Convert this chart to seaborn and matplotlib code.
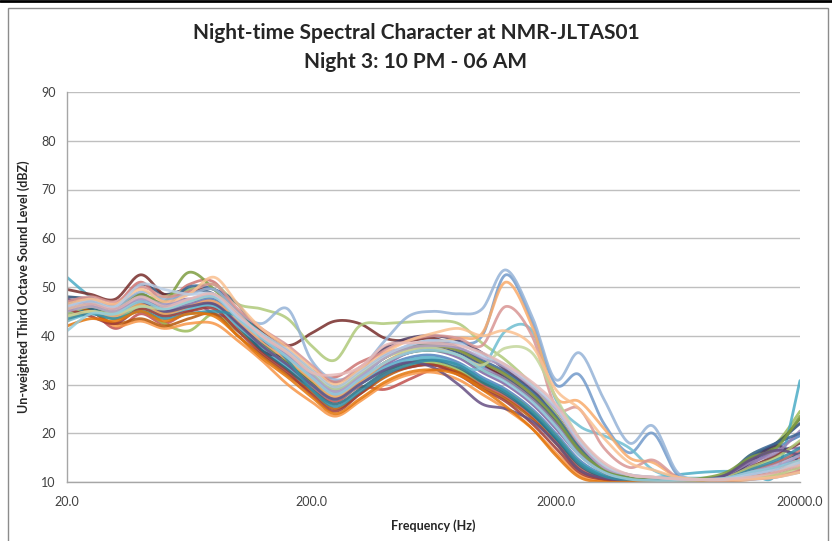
import numpy as np
import pandas as pd
import matplotlib
matplotlib.use("Agg")
import matplotlib.pyplot as plt
import seaborn as sns
from matplotlib.patches import Rectangle
from matplotlib.lines import Line2D

# One-third octave band centre frequencies (Hz)
bands = [20, 25, 31.5, 40, 50, 63, 80, 100, 125, 160, 200, 250, 315, 400, 500,
         630, 800, 1000, 1250, 1600, 2000, 2500, 3150, 4000, 5000, 6300, 8000,
         10000, 12500, 16000, 20000]

# 15-minute intervals, 22:00 to 06:00
intervals = ["22:00", "22:15", "22:30", "22:45", "23:00", "23:15", "23:30", "23:45",
             "00:00", "00:15", "00:30", "00:45", "01:00", "01:15", "01:30", "01:45",
             "02:00", "02:15", "02:30", "02:45", "03:00", "03:15", "03:30", "03:45",
             "04:00", "04:15", "04:30", "04:45", "05:00", "05:15", "05:30", "05:45"]

# Un-weighted third octave levels (dBZ), one list per interval
lv_2200 = [45.5, 46.5, 44.5, 47.0, 45.0, 46.5, 47.5, 42.5, 38.0, 34.0, 30.5, 27.0, 30.0, 33.5, 35.5, 36.0, 34.5, 31.5, 29.0, 25.0, 20.0, 14.5, 11.5, 10.5, 10.2, 10.2, 10.3, 10.8, 14.0, 17.0, 19.5]
lv_2215 = [47.5, 45.5, 41.5, 44.5, 42.5, 45.0, 46.0, 41.5, 37.0, 33.0, 29.5, 26.5, 29.5, 29.0, 31.0, 33.0, 32.5, 30.0, 27.5, 23.5, 18.5, 13.0, 10.8, 10.2, 10.1, 10.1, 10.1, 10.3, 11.0, 12.5, 15.0]
lv_2230 = [44.0, 45.0, 43.5, 45.5, 42.5, 41.0, 44.5, 41.0, 37.5, 34.5, 31.0, 27.5, 30.5, 33.0, 34.0, 34.5, 33.0, 30.5, 28.5, 24.5, 19.5, 14.0, 11.2, 10.4, 10.2, 10.2, 10.4, 11.0, 15.5, 18.0, 24.5]
lv_2245 = [46.0, 47.0, 45.0, 48.0, 46.0, 47.5, 44.5, 43.5, 40.5, 36.0, 31.5, 28.0, 31.0, 34.0, 36.5, 37.0, 35.5, 32.5, 30.0, 26.0, 21.0, 15.5, 12.0, 10.6, 10.3, 10.2, 10.3, 10.8, 13.5, 16.5, 17.0]
lv_2300 = [52.0, 48.0, 45.5, 46.5, 44.5, 45.5, 46.0, 42.0, 37.5, 33.5, 30.0, 27.0, 30.0, 33.0, 35.0, 35.5, 34.0, 31.0, 28.5, 24.0, 19.0, 14.0, 11.5, 10.8, 10.9, 11.5, 12.0, 12.2, 12.0, 11.8, 30.8]
lv_2315 = [43.0, 45.0, 42.0, 43.0, 41.5, 42.5, 42.5, 39.0, 35.0, 30.0, 26.5, 23.5, 26.5, 30.0, 32.0, 32.5, 31.0, 28.0, 25.0, 21.0, 16.0, 11.5, 10.2, 10.0, 10.0, 10.0, 10.0, 10.1, 10.5, 11.5, 13.5]
lv_2330 = [48.0, 47.5, 46.0, 50.5, 48.5, 49.5, 48.5, 44.0, 40.5, 37.0, 33.0, 29.5, 32.5, 36.0, 37.5, 37.5, 36.5, 34.0, 31.5, 27.5, 22.5, 16.5, 12.5, 10.8, 10.4, 10.3, 10.5, 11.5, 15.0, 18.0, 22.0]
lv_2345 = [49.5, 48.5, 47.5, 52.5, 48.5, 49.0, 49.5, 45.0, 41.0, 38.0, 40.5, 43.0, 42.5, 39.5, 39.0, 39.5, 37.5, 34.5, 31.0, 27.0, 22.0, 16.0, 12.0, 10.5, 10.2, 10.2, 10.3, 10.8, 13.0, 15.5, 18.0]
lv_0000 = [45.0, 46.0, 44.0, 46.5, 44.5, 46.0, 47.0, 42.5, 38.5, 34.5, 30.5, 27.0, 30.5, 34.5, 36.5, 37.0, 36.0, 33.0, 31.0, 27.0, 22.0, 16.0, 12.0, 10.6, 10.3, 10.3, 10.5, 11.5, 14.5, 17.5, 23.0]
lv_0015 = [47.0, 46.0, 45.5, 48.5, 45.5, 47.0, 48.0, 43.5, 37.0, 35.5, 33.0, 30.5, 33.0, 37.5, 39.5, 40.0, 39.0, 36.5, 33.0, 29.0, 24.0, 17.0, 12.5, 10.8, 10.4, 10.3, 10.5, 11.0, 14.0, 17.5, 14.0]
lv_0030 = [44.5, 45.5, 44.0, 47.0, 45.5, 46.0, 46.5, 42.0, 37.0, 33.0, 29.0, 26.0, 29.0, 32.5, 34.5, 35.0, 33.5, 30.5, 28.0, 24.0, 19.0, 13.5, 11.0, 10.3, 10.2, 10.2, 10.3, 10.6, 12.0, 14.0, 16.0]
lv_0045 = [46.5, 45.0, 42.5, 43.5, 42.0, 43.5, 44.5, 40.0, 36.0, 32.0, 28.5, 25.0, 28.0, 31.5, 33.5, 34.0, 32.5, 29.5, 27.0, 23.0, 18.0, 12.5, 10.6, 10.1, 10.0, 10.0, 10.1, 10.4, 11.5, 13.0, 12.5]
lv_0100 = [45.0, 46.0, 45.0, 48.0, 46.5, 47.0, 48.0, 43.5, 39.0, 35.5, 32.0, 28.5, 31.5, 35.5, 38.0, 39.0, 38.5, 40.0, 52.5, 43.0, 30.0, 32.0, 22.0, 16.0, 20.0, 11.5, 10.5, 10.5, 11.5, 13.0, 15.5]
lv_0115 = [47.0, 47.5, 46.5, 51.0, 47.0, 50.5, 51.0, 44.5, 40.0, 36.5, 32.5, 31.5, 34.5, 36.5, 37.5, 38.0, 37.0, 34.5, 32.0, 28.0, 23.5, 17.5, 13.0, 11.0, 10.5, 10.4, 10.6, 11.0, 12.5, 14.0, 16.5]
lv_0130 = [44.5, 46.0, 45.0, 47.5, 48.0, 49.5, 50.5, 46.5, 45.5, 43.5, 38.0, 35.0, 42.0, 42.5, 42.8, 43.0, 42.5, 38.5, 35.0, 30.0, 24.0, 17.0, 12.5, 11.0, 10.5, 10.4, 10.5, 11.0, 13.0, 15.0, 18.5]
lv_0145 = [46.0, 46.5, 45.5, 47.5, 45.5, 46.5, 47.0, 43.0, 39.0, 35.5, 31.5, 28.0, 31.0, 34.5, 36.5, 37.5, 36.0, 33.5, 31.0, 27.0, 22.0, 16.0, 12.0, 10.6, 10.3, 10.3, 10.6, 11.5, 14.0, 16.0, 20.5]
lv_0200 = [43.0, 44.5, 44.0, 46.0, 44.0, 45.5, 46.0, 42.0, 38.0, 34.0, 30.0, 27.0, 30.0, 33.5, 35.0, 35.5, 34.0, 33.5, 41.0, 41.0, 27.0, 21.5, 19.5, 17.0, 12.5, 11.0, 10.8, 10.8, 11.0, 11.5, 14.0]
lv_0215 = [44.0, 45.0, 44.0, 46.5, 44.5, 46.0, 47.0, 43.0, 39.0, 35.0, 31.0, 27.5, 30.5, 34.5, 37.0, 38.5, 39.5, 40.5, 51.0, 42.0, 27.5, 26.5, 21.0, 15.0, 14.0, 11.0, 10.5, 10.4, 10.8, 12.0, 14.5]
lv_0230 = [46.5, 47.0, 45.5, 48.5, 46.0, 50.0, 49.5, 46.5, 39.5, 36.0, 32.5, 29.0, 32.0, 35.5, 37.5, 38.5, 37.5, 35.0, 32.5, 28.5, 23.5, 17.0, 12.5, 10.8, 10.4, 10.3, 10.6, 11.5, 15.5, 18.0, 20.0]
lv_0245 = [45.5, 44.0, 42.5, 45.5, 44.0, 45.0, 45.5, 41.0, 36.5, 32.5, 28.0, 24.5, 28.0, 32.0, 33.5, 34.0, 32.0, 29.0, 26.5, 22.0, 17.0, 12.0, 10.5, 10.0, 10.0, 10.0, 10.1, 10.3, 11.0, 12.0, 13.0]
lv_0300 = [45.5, 46.5, 46.0, 48.5, 47.0, 53.0, 49.5, 44.5, 40.5, 36.5, 33.0, 29.5, 32.5, 35.5, 37.5, 38.0, 37.0, 34.5, 32.0, 28.0, 23.0, 16.5, 12.5, 10.8, 10.4, 10.4, 10.8, 12.0, 15.0, 17.0, 23.5]
lv_0315 = [47.5, 46.5, 45.5, 47.0, 45.0, 46.0, 46.5, 42.5, 38.0, 34.0, 30.0, 27.0, 30.0, 33.0, 34.5, 33.5, 30.0, 26.0, 25.0, 22.5, 18.0, 12.5, 10.8, 10.3, 10.2, 10.2, 10.4, 11.5, 14.5, 16.5, 15.5]
lv_0330 = [43.5, 44.5, 43.5, 45.0, 43.5, 44.5, 45.0, 44.0, 40.5, 35.0, 29.0, 25.5, 28.5, 32.0, 34.0, 35.0, 34.0, 31.0, 28.5, 24.5, 19.5, 14.0, 11.2, 10.4, 10.2, 10.2, 10.3, 10.7, 12.5, 14.5, 17.0]
lv_0345 = [42.0, 43.5, 43.0, 45.0, 43.0, 44.5, 44.0, 40.0, 35.5, 31.5, 27.5, 24.0, 27.0, 30.5, 32.5, 33.0, 32.0, 29.0, 25.5, 21.0, 15.5, 11.0, 10.0, 10.0, 10.0, 10.0, 10.0, 10.2, 10.8, 11.5, 12.0]
lv_0400 = [46.0, 47.5, 46.0, 49.0, 47.5, 48.5, 49.5, 45.0, 42.5, 45.5, 35.0, 31.0, 33.0, 39.0, 44.0, 45.0, 44.5, 45.5, 53.5, 44.0, 31.0, 36.5, 27.0, 18.0, 21.5, 12.0, 10.5, 10.4, 10.5, 11.0, 12.0]
lv_0415 = [47.0, 48.0, 47.0, 50.0, 48.0, 49.0, 50.5, 45.5, 41.5, 38.0, 34.0, 30.5, 33.5, 37.0, 39.0, 40.0, 39.5, 38.0, 46.0, 40.0, 25.5, 25.0, 17.0, 13.0, 14.5, 11.0, 10.4, 10.4, 10.6, 11.0, 12.5]
lv_0430 = [44.0, 45.0, 44.5, 46.0, 45.5, 47.0, 48.0, 44.0, 40.0, 36.5, 32.5, 29.0, 32.0, 35.5, 37.0, 37.5, 36.0, 34.0, 37.5, 36.5, 27.5, 19.0, 13.5, 11.5, 11.0, 10.5, 10.4, 10.6, 11.0, 11.5, 13.0]
lv_0445 = [45.0, 46.0, 45.0, 47.5, 46.5, 47.5, 48.0, 44.0, 40.0, 36.0, 32.0, 28.5, 31.5, 35.5, 37.5, 38.0, 37.5, 35.5, 33.5, 29.5, 25.0, 18.0, 13.0, 11.5, 11.0, 10.6, 10.5, 10.8, 12.0, 13.5, 15.5]
lv_0500 = [41.0, 44.5, 44.5, 47.0, 45.5, 47.0, 48.0, 43.5, 39.5, 35.5, 31.5, 28.0, 31.0, 34.5, 36.5, 37.0, 36.0, 33.0, 30.5, 26.5, 21.5, 15.5, 12.0, 10.6, 10.3, 10.3, 10.5, 10.8, 12.0, 13.0, 14.5]
lv_0515 = [46.5, 47.5, 46.5, 49.5, 47.0, 48.5, 52.0, 46.5, 41.5, 37.5, 33.5, 30.0, 33.0, 36.5, 39.0, 40.5, 41.5, 40.0, 41.0, 38.0, 29.0, 25.0, 19.0, 14.0, 12.5, 11.0, 10.5, 10.4, 10.6, 11.0, 12.0]
lv_0530 = [46.0, 47.0, 46.0, 50.5, 49.5, 48.5, 48.5, 44.0, 40.5, 37.0, 33.0, 29.5, 32.5, 36.0, 38.0, 39.0, 38.5, 36.0, 34.0, 30.0, 25.5, 18.5, 13.5, 11.5, 11.0, 10.6, 10.5, 10.6, 11.5, 12.5, 14.0]
lv_0545 = [45.5, 46.5, 45.5, 48.0, 46.0, 47.5, 48.5, 44.5, 40.0, 36.5, 32.5, 32.0, 33.5, 38.0, 38.5, 38.5, 38.0, 36.5, 34.0, 30.5, 26.0, 19.0, 14.0, 11.5, 11.0, 10.6, 10.5, 10.6, 11.0, 12.0, 13.5]

levels = [lv_2200, lv_2215, lv_2230, lv_2245, lv_2300, lv_2315, lv_2330, lv_2345,
          lv_0000, lv_0015, lv_0030, lv_0045, lv_0100, lv_0115, lv_0130, lv_0145,
          lv_0200, lv_0215, lv_0230, lv_0245, lv_0300, lv_0315, lv_0330, lv_0345,
          lv_0400, lv_0415, lv_0430, lv_0445, lv_0500, lv_0515, lv_0530, lv_0545]

# Office-style series colour cycle
colors = ["#4F81BD", "#C0504D", "#9BBB59", "#8064A2", "#4BACC6", "#F79646",
          "#2C4D75", "#772C2A", "#5F7530", "#4D3B62", "#276A7C", "#B65708",
          "#729ACA", "#CD7371", "#AFC97A", "#9983B5", "#6FBDD1", "#F9AB6B",
          "#3A6595", "#9E3B38", "#7E9D40", "#664F83", "#358EA6", "#E3750A",
          "#95B3D7", "#D99694", "#C3D69B", "#B3A2C7", "#93CDDD", "#FAC090",
          "#B9CDE5", "#E6B9B8"]


def smooth_curve(freqs, vals, steps=20):
    """Bezier smoothing through every band value (Catmull-Rom style), in log-frequency space."""
    lx = np.log10(np.asarray(freqs, dtype=float))
    ly = np.asarray(vals, dtype=float)
    px = np.r_[lx[0], lx, lx[-1]]
    py = np.r_[ly[0], ly, ly[-1]]
    t = np.linspace(0, 1, steps, endpoint=False)
    xs, ys = [], []
    for i in range(len(lx) - 1):
        x0, x1, x2, x3 = px[i:i + 4]
        y0, y1, y2, y3 = py[i:i + 4]
        cx1, cy1 = x1 + (x2 - x0) / 6, y1 + (y2 - y0) / 6
        cx2, cy2 = x2 - (x3 - x1) / 6, y2 - (y3 - y1) / 6
        b0 = (1 - t) ** 3
        b1 = 3 * (1 - t) ** 2 * t
        b2 = 3 * (1 - t) * t ** 2
        b3 = t ** 3
        xs.append(b0 * x1 + b1 * cx1 + b2 * cx2 + b3 * x2)
        ys.append(b0 * y1 + b1 * cy1 + b2 * cy2 + b3 * y2)
    xs.append([lx[-1]])
    ys.append([ly[-1]])
    return 10 ** np.concatenate(xs), np.concatenate(ys)


frames = []
for name, vals in zip(intervals, levels):
    fx, fy = smooth_curve(bands, vals)
    frames.append(pd.DataFrame({"Frequency": fx, "Level": fy, "Interval": name}))
df = pd.concat(frames, ignore_index=True)

sns.set_style("white")
plt.rcParams["font.family"] = ["Lato", "DejaVu Sans"]

fig = plt.figure(figsize=(8.32, 5.41), dpi=100)
ax = fig.add_axes([67 / 832, 1 - 482 / 541, (800 - 67) / 832, (482 - 92) / 541])

sns.lineplot(data=df, x="Frequency", y="Level", hue="Interval", hue_order=intervals,
             palette=colors, sort=False, estimator=None, legend=False,
             linewidth=2.0, alpha=0.85, ax=ax)

ax.set_xscale("log")
ax.set_xlim(20, 20000)
ax.set_ylim(10, 90)
ax.set_xticks([20, 200, 2000, 20000])
ax.set_xticklabels(["20.0", "200.0", "2000.0", "20000.0"])
ax.xaxis.set_minor_locator(matplotlib.ticker.NullLocator())
ax.set_yticks(range(10, 91, 10))
ax.yaxis.grid(True, color="#BFBFBF", linewidth=1.0)
ax.set_axisbelow(True)
for side in ("top", "right"):
    ax.spines[side].set_visible(False)
for side in ("left", "bottom"):
    ax.spines[side].set_color("#A6A6A6")
    ax.spines[side].set_linewidth(1.0)
ax.tick_params(axis="both", which="major", direction="out", length=4, width=1,
               color="#A6A6A6", labelsize=9, labelcolor="#404040", pad=4)
ax.tick_params(axis="x", pad=6)

ax.set_xlabel("Frequency (Hz)", fontsize=9, fontweight="bold", labelpad=8)
ax.set_ylabel("Un-weighted Third Octave Sound Level (dBZ)", fontsize=9,
              fontweight="bold", labelpad=8)

fig.text(0.5, 1 - 33 / 541, "Night-time Spectral Character at NMR-JLTAS01",
         ha="center", va="center", fontsize=15, fontweight="bold")
fig.text(0.5, 1 - 62 / 541, "Night 3: 10 PM - 06 AM",
         ha="center", va="center", fontsize=15, fontweight="bold")

# chart frame
fig.patches.append(Rectangle((8 / 832, -0.01), 820 / 832, 1 - 8 / 541 + 0.01,
                             transform=fig.transFigure, fill=False,
                             edgecolor="#8C8C8C", linewidth=1.0))
fig.lines.append(Line2D([0, 1], [1 - 1 / 541, 1 - 1 / 541], transform=fig.transFigure,
                        color="black", linewidth=2.0))

fig.savefig("out.png", dpi=100)
